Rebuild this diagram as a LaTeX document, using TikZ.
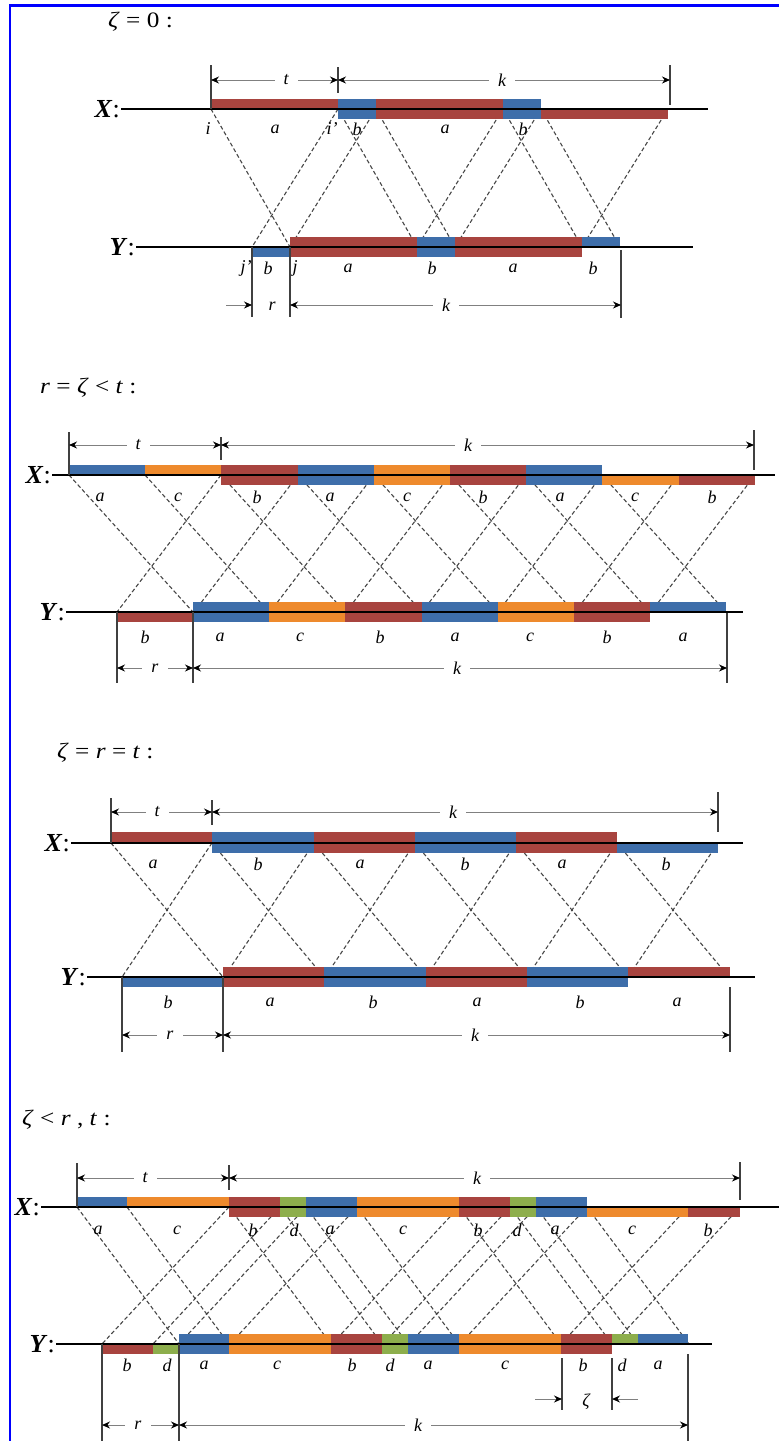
\documentclass[tikz,border=0pt]{standalone}
\usepackage{fontspec}
\setmainfont{Liberation Serif}
\newfontfamily\titlefont[FakeStretch=1.15]{Liberation Serif}
\usetikzlibrary{arrows.meta}
\definecolor{segred}{HTML}{A8443F}
\definecolor{segblue}{HTML}{3E6EAA}
\definecolor{segorange}{HTML}{EE8A2D}
\definecolor{seggreen}{HTML}{8DAE4C}

\begin{document}
\begin{tikzpicture}[x=1pt, y=-1pt,
    seqline/.style={line width=1.7pt},
    crossline/.style={draw=black!72, line width=1.1pt, dash pattern=on 4pt off 2.5pt},
    tickline/.style={draw=black!75, line width=1.3pt},
    dimline/.style={draw=black!50, line width=1pt,
        {Stealth[length=8pt,width=7pt,black]}-{Stealth[length=8pt,width=7pt,black]}},
    dimarrow/.style={draw=black!50, line width=1pt, -{Stealth[length=8pt,width=7pt,black]}},
    dimlab/.style={fill=white, inner xsep=9pt, inner ysep=1pt, font=\fontsize{18}{18}\selectfont\itshape},
    seglab/.style={inner sep=0pt, font=\fontsize{18}{18}\selectfont\itshape},
    rowlab/.style={anchor=east, inner sep=1pt, font=\fontsize{26}{26}\selectfont},
    casetitle/.style={anchor=west, inner sep=0pt, font=\titlefont\fontsize{22}{22}\selectfont}]

    \useasboundingbox (0,0) rectangle (779,1441);
    \draw[blue, line width=2.5pt] (10,1441) -- (10,5.5) -- (779,5.5);

    % Fall zeta = 0
    \node[casetitle] (ttl1) at (108,22) {\textit{ζ} = 0 :};
    \foreach \x in {211,338,376,503,541} \draw[crossline] (\x,109) -- (\x+79,247);
    \foreach \x in {338,376,503,541,668} \draw[crossline] (\x,109) -- (\x-86,247);
    \foreach \xa/\xb/\c in {211/338/segred, 338/376/segblue, 376/503/segred, 503/541/segblue}
        \fill[\c] (\xa,99) rectangle (\xb,109);
    \foreach \xa/\xb/\c in {338/376/segblue, 376/503/segred, 503/541/segblue, 541/668/segred}
        \fill[\c] (\xa,109) rectangle (\xb,119);
    \foreach \xa/\xb/\c in {290/417/segred, 417/455/segblue, 455/582/segred, 582/620/segblue}
        \fill[\c] (\xa,237) rectangle (\xb,247);
    \foreach \xa/\xb/\c in {252/290/segblue, 290/417/segred, 417/455/segblue, 455/582/segred}
        \fill[\c] (\xa,247) rectangle (\xb,257);
    \node[rowlab] (X1) at (121,109) {\textbf{\textit{X}}:};
    \node[rowlab] (Y1) at (136,247) {\textbf{\textit{Y}}:};
    \draw[seqline] (X1.east) -- (708,109);
    \draw[seqline] (Y1.east) -- (693,247);
    \foreach \x/\s [count=\i] in {208/i, 275/a, 332/i', 357/b, 445/a, 523/b}
        \node[seglab] (x1-\i) at (\x,129) {\s};
    \foreach \x/\s [count=\i] in {246/j', 268/b, 295/j, 348/a, 432/b, 513/a, 593/b}
        \node[seglab] (y1-\i) at (\x,268) {\s};
    \draw[tickline] (211,65) -- (211,109);
    \draw[tickline] (338,67) -- (338,93);
    \draw[tickline] (670,65) -- (670,105);
    \draw[dimline] (211,80) -- (338,80);
    \draw[dimline] (338,80) -- (670,80);
    \node[dimlab] (t1) at (286,80) {t};
    \node[dimlab] (k1) at (502,80) {k};
    \draw[tickline] (252,247) -- (252,317);
    \draw[tickline] (290,247) -- (290,317);
    \draw[tickline] (621,250) -- (621,318);
    \draw[dimarrow] (226,305) -- (252,305);
    \draw[dimline] (290,305) -- (621,305);
    \node[seglab] (r1) at (272,306) {r};
    \node[dimlab] (k1b) at (446,305) {k};

    % Fall r = zeta < t
    \node[casetitle] (ttl2) at (40,388) {\textit{r} = \textit{ζ} < \textit{t} :};
    \foreach \x in {69,145,221,298,374,450,526,602} \draw[crossline] (\x,475) -- (\x+124,612);
    \foreach \x in {221,298,374,450,526,602,679,755} \draw[crossline] (\x,475) -- (\x-104,612);
    \foreach \xa/\xb/\c in {69/145/segblue, 145/221/segorange, 221/298/segred, 298/374/segblue,
            374/450/segorange, 450/526/segred, 526/602/segblue}
        \fill[\c] (\xa,465) rectangle (\xb,475);
    \foreach \xa/\xb/\c in {221/298/segred, 298/374/segblue, 374/450/segorange, 450/526/segred,
            526/602/segblue, 602/679/segorange, 679/755/segred}
        \fill[\c] (\xa,475) rectangle (\xb,485);
    \foreach \xa/\xb/\c in {193/269/segblue, 269/345/segorange, 345/422/segred, 422/498/segblue,
            498/574/segorange, 574/650/segred, 650/726/segblue}
        \fill[\c] (\xa,602) rectangle (\xb,612);
    \foreach \xa/\xb/\c in {117/193/segred, 193/269/segblue, 269/345/segorange, 345/422/segred,
            422/498/segblue, 498/574/segorange, 574/650/segred}
        \fill[\c] (\xa,612) rectangle (\xb,622);
    \node[rowlab] (X2) at (52,475) {\textbf{\textit{X}}:};
    \node[rowlab] (Y2) at (66,612) {\textbf{\textit{Y}}:};
    \draw[seqline] (X2.east) -- (775,475);
    \draw[seqline] (Y2.east) -- (743,612);
    \foreach \x/\s [count=\i] in {100/a, 178/c, 257/b, 330/a, 407/c, 483/b, 560/a, 635/c, 712/b}
        \node[seglab] (x2-\i) at (\x,497) {\s};
    \foreach \x/\s [count=\i] in {145/b, 220/a, 300/c, 380/b, 455/a, 530/c, 607/b, 683/a}
        \node[seglab] (y2-\i) at (\x,637) {\s};
    \draw[tickline] (69,432) -- (69,475);
    \draw[tickline] (221,437) -- (221,460);
    \draw[tickline] (754,430) -- (754,470);
    \draw[dimline] (69,445) -- (221,445);
    \draw[dimline] (221,445) -- (754,445);
    \node[dimlab] (t2) at (138,445) {t};
    \node[dimlab] (k2) at (468,445) {k};
    \draw[tickline] (117,612) -- (117,683);
    \draw[tickline] (193,612) -- (193,683);
    \draw[tickline] (727,613) -- (727,683);
    \draw[dimline] (117,668) -- (193,668);
    \draw[dimline] (193,668) -- (727,668);
    \node[dimlab] (r2) at (155,668) {r};
    \node[dimlab] (k2b) at (457,668) {k};

    % Fall zeta = r = t
    \node[casetitle] (ttl3) at (57,753) {\textit{ζ} = \textit{r} = \textit{t} :};
    \foreach \x in {111,212,314,415,516,617} \draw[crossline] (\x,843) -- (\x+112,977);
    \foreach \x in {212,314,415,516,617,718} \draw[crossline] (\x,843) -- (\x-90,977);
    \foreach \xa/\xb/\c in {111/212/segred, 212/314/segblue, 314/415/segred, 415/516/segblue, 516/617/segred}
        \fill[\c] (\xa,832) rectangle (\xb,843);
    \foreach \xa/\xb/\c in {212/314/segblue, 314/415/segred, 415/516/segblue, 516/617/segred, 617/718/segblue}
        \fill[\c] (\xa,843) rectangle (\xb,853);
    \foreach \xa/\xb/\c in {223/324/segred, 324/426/segblue, 426/527/segred, 527/628/segblue, 628/730/segred}
        \fill[\c] (\xa,967) rectangle (\xb,977);
    \foreach \xa/\xb/\c in {122/223/segblue, 223/324/segred, 324/426/segblue, 426/527/segred, 527/628/segblue}
        \fill[\c] (\xa,977) rectangle (\xb,987);
    \node[rowlab] (X3) at (71,843) {\textbf{\textit{X}}:};
    \node[rowlab] (Y3) at (87,977) {\textbf{\textit{Y}}:};
    \draw[seqline] (X3.east) -- (743,843);
    \draw[seqline] (Y3.east) -- (755,977);
    \foreach \x/\s [count=\i] in {153/a, 258/b, 360/a, 465/b, 562/a, 666/b}
        \node[seglab] (x3-\i) at (\x,864) {\s};
    \foreach \x/\s [count=\i] in {168/b, 270/a, 373/b, 477/a, 580/b, 677/a}
        \node[seglab] (y3-\i) at (\x,1002) {\s};
    \draw[tickline] (111,798) -- (111,843);
    \draw[tickline] (212,800) -- (212,825);
    \draw[tickline] (718,792) -- (718,832);
    \draw[dimline] (111,812) -- (212,812);
    \draw[dimline] (212,812) -- (718,812);
    \node[dimlab] (t3) at (157,812) {t};
    \node[dimlab] (k3) at (453,812) {k};
    \draw[tickline] (122,977) -- (122,1052);
    \draw[tickline] (223,977) -- (223,1052);
    \draw[tickline] (730,987) -- (730,1052);
    \draw[dimline] (122,1035) -- (223,1035);
    \draw[dimline] (223,1035) -- (730,1035);
    \node[dimlab] (r3) at (170,1035) {r};
    \node[dimlab] (k3b) at (475,1035) {k};

    % Fall zeta < r, t: hier kommt der Abschnitt d dazu
    \node[casetitle] (ttl4) at (22,1120) {\textit{ζ} < \textit{r} , \textit{t} :};
    \foreach \x in {77,127,229,280,306,357,459,510,536,587} \draw[crossline] (\x,1207) -- (\x+102,1344);
    \foreach \x in {229,280,306,357,459,510,536,587,688,740} \draw[crossline] (\x,1207) -- (\x-127,1344);
    \foreach \xa/\xb/\c in {77/127/segblue, 127/229/segorange, 229/280/segred, 280/306/seggreen,
            306/357/segblue, 357/459/segorange, 459/510/segred, 510/536/seggreen, 536/587/segblue}
        \fill[\c] (\xa,1197) rectangle (\xb,1207);
    \foreach \xa/\xb/\c in {229/280/segred, 280/306/seggreen, 306/357/segblue, 357/459/segorange,
            459/510/segred, 510/536/seggreen, 536/587/segblue, 587/688/segorange, 688/740/segred}
        \fill[\c] (\xa,1207) rectangle (\xb,1217);
    \foreach \xa/\xb/\c in {179/229/segblue, 229/331/segorange, 331/382/segred, 382/408/seggreen,
            408/459/segblue, 459/561/segorange, 561/612/segred, 612/638/seggreen, 638/688/segblue}
        \fill[\c] (\xa,1334) rectangle (\xb,1344);
    \foreach \xa/\xb/\c in {102/153/segred, 153/179/seggreen, 179/229/segblue, 229/331/segorange,
            331/382/segred, 382/408/seggreen, 408/459/segblue, 459/561/segorange, 561/612/segred}
        \fill[\c] (\xa,1344) rectangle (\xb,1354);
    \node[rowlab] (X4) at (41,1207) {\textbf{\textit{X}}:};
    \node[rowlab] (Y4) at (56,1344) {\textbf{\textit{Y}}:};
    \draw[seqline] (X4.east) -- (779,1207);
    \draw[seqline] (Y4.east) -- (712,1344);
    \foreach \x/\s [count=\i] in {98/a, 177/c, 253/b, 294/d, 330/a, 403/c, 478/b, 517/d, 555/a, 632/c, 708/b}
        \node[seglab] (x4-\i) at (\x,1230) {\s};
    \foreach \x/\s [count=\i] in {127/b, 167/d, 204/a, 277/c, 352/b, 390/d, 428/a, 505/c, 583/b, 622/d, 658/a}
        \node[seglab] (y4-\i) at (\x,1365) {\s};
    \draw[tickline] (77,1163) -- (77,1207);
    \draw[tickline] (229,1165) -- (229,1190);
    \draw[tickline] (740,1162) -- (740,1200);
    \draw[dimline] (77,1178) -- (229,1178);
    \draw[dimline] (229,1178) -- (740,1178);
    \node[dimlab] (t4) at (145,1178) {t};
    \node[dimlab] (k4) at (477,1178) {k};
    \draw[tickline] (102,1344) -- (102,1441);
    \draw[tickline] (179,1344) -- (179,1441);
    \draw[tickline] (688,1354) -- (688,1441);
    \draw[dimline] (102,1425) -- (179,1425);
    \draw[dimline] (179,1425) -- (688,1425);
    \node[dimlab] (r4) at (138,1425) {r};
    \node[dimlab] (k4b) at (418,1425) {k};
    \draw[tickline] (562,1358) -- (562,1410);
    \draw[tickline] (612,1358) -- (612,1410);
    \draw[dimarrow] (535,1399) -- (562,1399);
    \draw[dimarrow] (638,1399) -- (612,1399);
    \node[seglab] (z4) at (586,1402) {ζ};
\end{tikzpicture}
\end{document}
